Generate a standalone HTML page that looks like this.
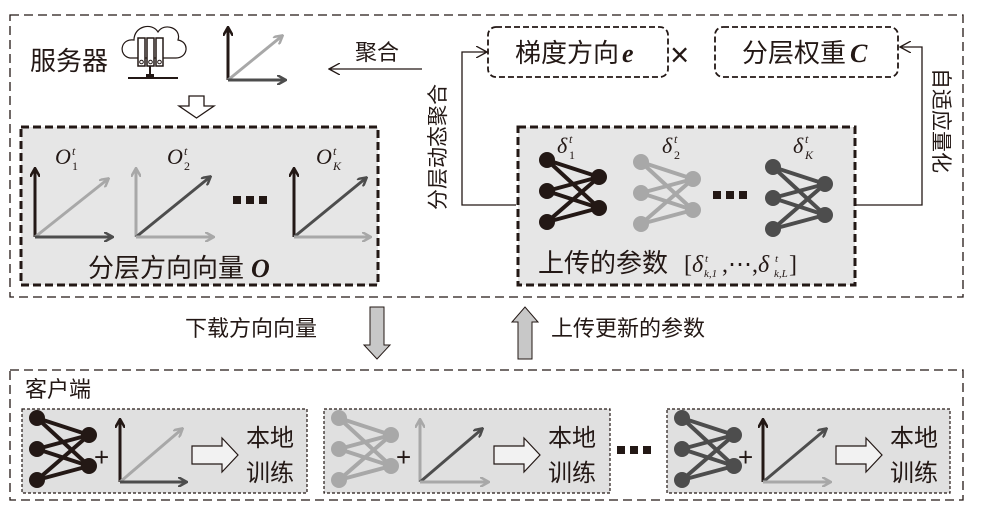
<!DOCTYPE html>
<html><head><meta charset="utf-8"><style>
html,body{margin:0;padding:0;background:#fff;}
svg{display:block;}
text{font-family:"Liberation Sans","Noto Sans CJK SC",sans-serif;fill:#231815;}
.it{font-family:"Liberation Serif",serif;font-style:italic;}
</style></head><body>
<svg width="983" height="519" viewBox="0 0 983 519" xmlns="http://www.w3.org/2000/svg">
<defs>
<marker id="aD" markerWidth="10" markerHeight="10" refX="8" refY="5" orient="auto" markerUnits="userSpaceOnUse"><path d="M0,0 L9,5 L0,10" fill="none" stroke="#231815" stroke-width="2.5"/></marker>
<marker id="aM" markerWidth="10" markerHeight="10" refX="8" refY="5" orient="auto" markerUnits="userSpaceOnUse"><path d="M0,0 L9,5 L0,10" fill="none" stroke="#4d4d4d" stroke-width="2.5"/></marker>
<marker id="aL" markerWidth="10" markerHeight="10" refX="8" refY="5" orient="auto" markerUnits="userSpaceOnUse"><path d="M0,0 L9,5 L0,10" fill="none" stroke="#a8a8a8" stroke-width="2.5"/></marker>
<marker id="aT" markerWidth="12" markerHeight="12" refX="10" refY="6" orient="auto" markerUnits="userSpaceOnUse"><path d="M0,0 L11,6 L0,12" fill="none" stroke="#231815" stroke-width="1.3"/></marker>
<symbol id="net" overflow="visible">
<g stroke="currentColor" stroke-width="4">
<line x1="0" y1="0" x2="52" y2="17"/><line x1="0" y1="0" x2="52" y2="48"/>
<line x1="0" y1="31" x2="52" y2="17"/><line x1="0" y1="31" x2="52" y2="48"/>
<line x1="0" y1="62" x2="52" y2="17"/><line x1="0" y1="62" x2="52" y2="48"/>
</g>
<g fill="currentColor"><circle cx="0" cy="0" r="8"/><circle cx="0" cy="31" r="8"/><circle cx="0" cy="62" r="8"/><circle cx="52" cy="17" r="8"/><circle cx="52" cy="48" r="8"/></g>
</symbol>
</defs>

<rect x="10" y="15" width="953" height="282" fill="none" stroke="#231815" stroke-width="1.3" stroke-dasharray="9,5"/>
<text x="30" y="70" font-size="26">服务器</text>
<path d="M130,58 C118,56 120,38 134,40 C134,26 152,22 158,32 C164,22 182,28 178,40 C190,42 188,58 176,58 Z" fill="none" stroke="#231815" stroke-width="1.2"/>
<g fill="#fff" stroke="#231815" stroke-width="1.5">
<rect x="138" y="38" width="7" height="28"/><rect x="147" y="38" width="7" height="28"/><rect x="156" y="38" width="7" height="28"/>
</g>
<g fill="none" stroke="#231815" stroke-width="1"><circle cx="141.5" cy="62" r="1.8"/><circle cx="150.5" cy="62" r="1.8"/><circle cx="159.5" cy="62" r="1.8"/></g>
<line x1="150" y1="66" x2="150" y2="78" stroke="#231815" stroke-width="2"/>
<rect x="146" y="74" width="8" height="5" fill="#231815"/>
<line x1="128" y1="78" x2="178" y2="78" stroke="#231815" stroke-width="2"/>
<g stroke-width="3" fill="none">
<line x1="228" y1="80" x2="228" y2="28" stroke="#231815" marker-end="url(#aD)"/>
<line x1="228" y1="80" x2="282" y2="36" stroke="#a8a8a8" marker-end="url(#aL)"/>
<line x1="228" y1="80" x2="285" y2="80" stroke="#4d4d4d" marker-end="url(#aM)"/>
</g>
<text x="355" y="60" font-size="22">聚合</text>
<line x1="422" y1="69" x2="330" y2="69" stroke="#231815" stroke-width="1.3" marker-end="url(#aT)"/>
<path d="M189,96 L204,96 L204,106 L214,106 L196.5,118 L179,106 L189,106 Z" fill="#fff" stroke="#231815" stroke-width="1.3"/>
<rect x="21" y="127" width="357" height="158" fill="#e6e6e6" stroke="#231815" stroke-width="3" stroke-dasharray="8,4"/>
<text class="it" x="55" y="164" font-size="22">O</text><text class="it" x="72" y="155" font-size="12">t</text><text x="72" y="170" font-size="12" style="font-family:'Liberation Serif',serif">1</text>
<text class="it" x="167" y="164" font-size="22">O</text><text class="it" x="184" y="155" font-size="12">t</text><text x="184" y="170" font-size="12" style="font-family:'Liberation Serif',serif">2</text>
<text class="it" x="316" y="164" font-size="22">O</text><text class="it" x="333" y="155" font-size="12">t</text><text class="it" x="333" y="170" font-size="12">K</text>
<g stroke-width="3" fill="none">
<line x1="35" y1="237" x2="35" y2="169" stroke="#231815" marker-end="url(#aD)"/>
<line x1="35" y1="237" x2="108" y2="179" stroke="#a8a8a8" marker-end="url(#aL)"/>
<line x1="35" y1="237" x2="112" y2="237" stroke="#4d4d4d" marker-end="url(#aM)"/>
<line x1="136" y1="237" x2="136" y2="169" stroke="#a8a8a8" marker-end="url(#aL)"/>
<line x1="136" y1="237" x2="210" y2="177" stroke="#4d4d4d" marker-end="url(#aM)"/>
<line x1="136" y1="237" x2="213" y2="237" stroke="#a8a8a8" marker-end="url(#aL)"/>
<line x1="294" y1="237" x2="294" y2="169" stroke="#231815" marker-end="url(#aD)"/>
<line x1="294" y1="237" x2="366" y2="178" stroke="#4d4d4d" marker-end="url(#aM)"/>
<line x1="294" y1="237" x2="370" y2="237" stroke="#a8a8a8" marker-end="url(#aL)"/>
</g>
<g fill="#231815"><rect x="233" y="196" width="8" height="8"/><rect x="246" y="196" width="8" height="8"/><rect x="259" y="196" width="8" height="8"/></g>
<text x="88" y="277" font-size="26">分层方向向量</text><text class="it" x="251" y="277" font-size="26" font-weight="bold">O</text>

<rect x="488" y="27" width="180" height="50" rx="8" fill="none" stroke="#231815" stroke-width="1.8" stroke-dasharray="6,3"/>
<text x="515" y="62" font-size="26">梯度方向</text><text class="it" x="622" y="62" font-size="26" font-weight="bold">e</text>
<text x="670" y="66" font-size="33" font-weight="300">×</text>
<rect x="715" y="27" width="183" height="50" rx="8" fill="none" stroke="#231815" stroke-width="1.8" stroke-dasharray="6,3"/>
<text x="742" y="62" font-size="26">分层权重</text><text class="it" x="850" y="62" font-size="26" font-weight="bold">C</text>
<polyline points="516,205 462,205 462,52 486,52" fill="none" stroke="#231815" stroke-width="1.3" marker-end="url(#aT)"/>
<text font-size="21" transform="translate(445,210) rotate(-90)">分层动态聚合</text>
<polyline points="855,205 922,205 922,47 901,47" fill="none" stroke="#231815" stroke-width="1.3" marker-end="url(#aT)"/>
<text font-size="21" transform="translate(934,68) rotate(90)">自适应量化</text>

<rect x="518" y="127" width="337" height="158" fill="#e6e6e6" stroke="#231815" stroke-width="3" stroke-dasharray="8,4"/>
<use href="#net" x="547" y="160" style="color:#231815"/>
<use href="#net" x="641" y="162" style="color:#a8a8a8"/>
<use href="#net" x="773" y="167" style="color:#4d4d4d"/>
<text class="it" x="557" y="153" font-size="22">δ</text><text class="it" x="569" y="143" font-size="12">t</text><text x="569" y="159" font-size="12" style="font-family:'Liberation Serif',serif">1</text>
<text class="it" x="662" y="153" font-size="22">δ</text><text class="it" x="674" y="143" font-size="12">t</text><text x="674" y="159" font-size="12" style="font-family:'Liberation Serif',serif">2</text>
<text class="it" x="793" y="153" font-size="22">δ</text><text class="it" x="805" y="143" font-size="12">t</text><text class="it" x="805" y="159" font-size="12">K</text>
<g fill="#231815"><rect x="713" y="191" width="8" height="8"/><rect x="726" y="191" width="8" height="8"/><rect x="739" y="191" width="8" height="8"/></g>
<text x="538" y="272" font-size="26">上传的参数</text>
<text x="684" y="272" font-size="24" style="font-family:'Liberation Serif',serif">[<tspan font-style="italic">δ</tspan></text>
<text class="it" x="705" y="262" font-size="11">t</text><text class="it" x="704" y="277" font-size="11">k,1</text>
<text x="722" y="272" font-size="24" style="font-family:'Liberation Serif',serif">,⋯,<tspan font-style="italic">δ</tspan></text>
<text class="it" x="775" y="262" font-size="11">t</text><text class="it" x="774" y="277" font-size="11">k,L</text>
<text x="789" y="272" font-size="24" style="font-family:'Liberation Serif',serif">]</text>

<text x="185" y="336" font-size="22">下载方向向量</text>
<path d="M370,307 L384,307 L384,345 L390,345 L377,359 L364,345 L370,345 Z" fill="#c8c8c8" stroke="#231815" stroke-width="1"/>
<path d="M518,359 L532,359 L532,322 L538,322 L525,307 L512,322 L518,322 Z" fill="#c8c8c8" stroke="#231815" stroke-width="1"/>
<text x="551" y="336" font-size="22">上传更新的参数</text>

<rect x="10" y="370" width="953" height="130" fill="none" stroke="#231815" stroke-width="1.3" stroke-dasharray="9,5"/>
<text x="25" y="397" font-size="22">客户端</text>

<g>
<rect x="22" y="409" width="285" height="84" fill="#e0e0e0" stroke="#231815" stroke-width="1.2" stroke-dasharray="3,2"/>
<use href="#net" x="37" y="418" style="color:#231815"/>
<text x="94" y="466" font-size="26">+</text>
<g stroke-width="3" fill="none">
<line x1="120" y1="482" x2="120" y2="420" stroke="#231815" marker-end="url(#aD)"/>
<line x1="120" y1="482" x2="182" y2="429" stroke="#a8a8a8" marker-end="url(#aL)"/>
<line x1="120" y1="482" x2="186" y2="482" stroke="#4d4d4d" marker-end="url(#aM)"/>
</g>
<path d="M192,446 L222,446 L222,438 L238,455 L222,472 L222,464 L192,464 Z" fill="#f2f2f2" stroke="#231815" stroke-width="1.2"/>
<text x="246" y="446" font-size="24">本地</text><text x="246" y="481" font-size="24">训练</text>
</g>
<g>
<rect x="324" y="409" width="286" height="84" fill="#e0e0e0" stroke="#231815" stroke-width="1.2" stroke-dasharray="3,2"/>
<use href="#net" x="339" y="418" style="color:#a8a8a8"/>
<text x="396" y="466" font-size="26">+</text>
<g stroke-width="3" fill="none">
<line x1="420" y1="482" x2="420" y2="420" stroke="#a8a8a8" marker-end="url(#aL)"/>
<line x1="420" y1="482" x2="482" y2="429" stroke="#4d4d4d" marker-end="url(#aM)"/>
<line x1="420" y1="482" x2="488" y2="482" stroke="#a8a8a8" marker-end="url(#aL)"/>
</g>
<path d="M494,446 L524,446 L524,438 L540,455 L524,472 L524,464 L494,464 Z" fill="#f2f2f2" stroke="#231815" stroke-width="1.2"/>
<text x="548" y="446" font-size="24">本地</text><text x="548" y="481" font-size="24">训练</text>
</g>
<g fill="#231815"><rect x="617" y="446" width="8" height="8"/><rect x="630" y="446" width="8" height="8"/><rect x="643" y="446" width="8" height="8"/></g>
<g>
<rect x="667" y="409" width="283" height="84" fill="#e0e0e0" stroke="#231815" stroke-width="1.2" stroke-dasharray="3,2"/>
<use href="#net" x="682" y="418" style="color:#4d4d4d"/>
<text x="738" y="466" font-size="26">+</text>
<g stroke-width="3" fill="none">
<line x1="763" y1="482" x2="763" y2="420" stroke="#231815" marker-end="url(#aD)"/>
<line x1="763" y1="482" x2="826" y2="429" stroke="#4d4d4d" marker-end="url(#aM)"/>
<line x1="763" y1="482" x2="830" y2="482" stroke="#a8a8a8" marker-end="url(#aL)"/>
</g>
<path d="M836,446 L866,446 L866,438 L882,455 L866,472 L866,464 L836,464 Z" fill="#f2f2f2" stroke="#231815" stroke-width="1.2"/>
<text x="890" y="446" font-size="24">本地</text><text x="890" y="481" font-size="24">训练</text>
</g>
</svg>
</body></html>
